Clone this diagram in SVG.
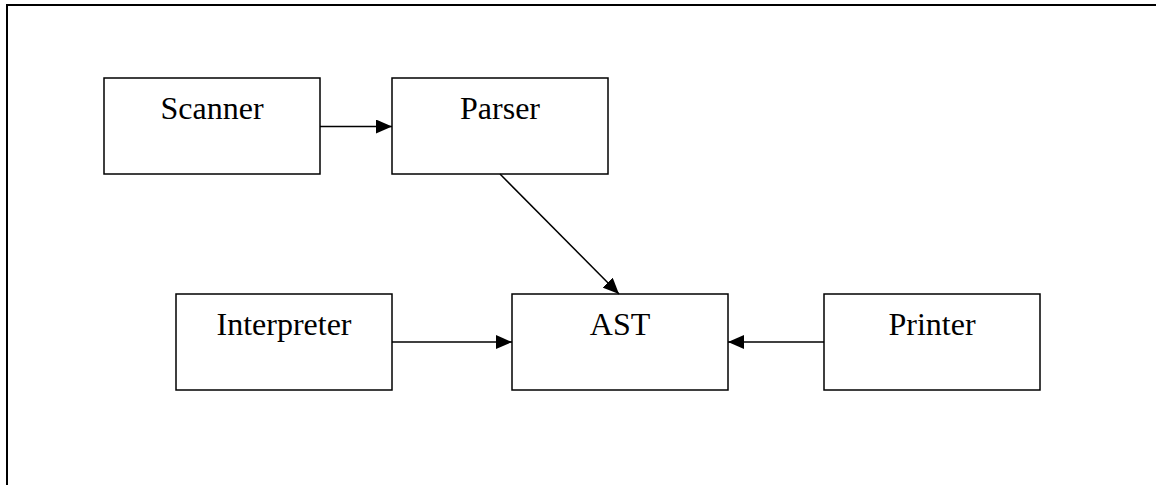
<svg xmlns="http://www.w3.org/2000/svg" width="1156" height="485" viewBox="0 0 1156 485">
<defs>
<style>
.box{fill:#fff;stroke:#000;stroke-width:1.5}
.lbl{font-family:"Liberation Serif","Times New Roman",serif;font-size:32px;fill:#000;text-anchor:middle}
.con{stroke:#000;stroke-width:1.5;fill:none;marker-end:url(#ah)}
.frame{stroke:#000;stroke-width:2;fill:none}
</style>
<marker id="ah" viewBox="0 0 16 14" refX="16" refY="7" markerWidth="16" markerHeight="14" markerUnits="userSpaceOnUse" orient="auto">
<path d="M0,0 L16,7 L0,14 Z" fill="#000"/>
</marker>
</defs>
<rect width="1156" height="485" fill="#fff"/>
<path class="frame" d="M7,485 L7,5 L1156,5"/>
<g id="scanner"><rect class="box" x="104" y="78" width="216" height="96"/><text class="lbl" x="212" y="119">Scanner</text></g>
<g id="parser"><rect class="box" x="392" y="78" width="216" height="96"/><text class="lbl" x="500" y="119">Parser</text></g>
<g id="interpreter"><rect class="box" x="176" y="294" width="216" height="96"/><text class="lbl" x="284" y="335">Interpreter</text></g>
<g id="ast"><rect class="box" x="512" y="294" width="216" height="96"/><text class="lbl" x="620" y="335">AST</text></g>
<g id="printer"><rect class="box" x="824" y="294" width="216" height="96"/><text class="lbl" x="932" y="335">Printer</text></g>
<g id="connectors">
<line class="con" x1="320" y1="126.5" x2="392" y2="126.5"/>
<line class="con" x1="500" y1="174" x2="619" y2="294"/>
<line class="con" x1="392" y1="342" x2="512" y2="342"/>
<line class="con" x1="824" y1="342" x2="728" y2="342"/>
</g>
</svg>
